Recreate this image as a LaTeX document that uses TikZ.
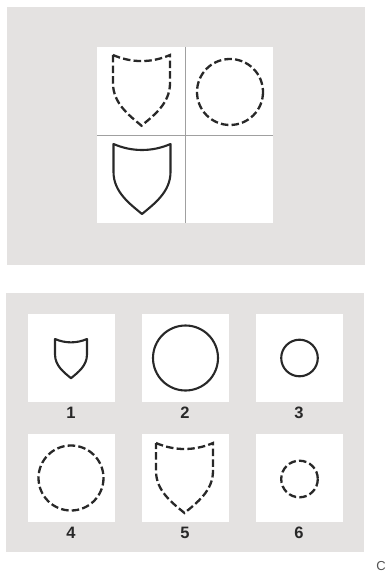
\documentclass[tikz,border=0pt]{standalone}
\usepackage{fontspec}
\setmainfont{Liberation Sans}
\definecolor{panelgray}{RGB}{228,226,225}
\definecolor{divgray}{RGB}{160,160,160}
\definecolor{ink}{RGB}{40,40,40}
\tikzset{
  panel/.style={fill=panelgray,draw=none},
  whitebox/.style={fill=white,draw=none},
  solidline/.style={draw=ink,line width=2.1pt,line join=round},
  dashline/.style={draw=ink,line width=2.3pt,dash pattern=on 7.5pt off 3.2pt},
  numlabel/.style={font=\fontsize{16.5}{16.5}\selectfont\bfseries,text=ink,inner sep=0pt},
}
\newcommand{\shieldpath}{(-28.5,0) .. controls (-10,8) and (10,8) .. (28.5,0) -- (28.5,28) .. controls (28.5,48) and (12,60) .. (0,70) .. controls (-12,60) and (-28.5,48) .. (-28.5,28) -- cycle}
\begin{document}
\begin{tikzpicture}[x=1pt,y=-1pt]
\useasboundingbox (0,0) rectangle (390,580);
\fill[white] (0,0) rectangle (390,580);
% top panel
\fill[panel] (7,7) rectangle (365,265);
\fill[whitebox] (97,47) rectangle (273,223);
\draw[divgray,line width=0.8pt] (185.5,47) -- (185.5,223);
\draw[divgray,line width=0.8pt] (97,135.5) -- (273,135.5);
\begin{scope}[shift={(141.5,55)},yscale=1.01]
  \draw[dashline] \shieldpath;
\end{scope}
\draw[dashline] (230,92) circle[radius=33];
\begin{scope}[shift={(142,144)}]
  \draw[solidline] \shieldpath;
\end{scope}
% bottom panel
\fill[panel] (6,293) rectangle (364,552);
\foreach \bx/\by in {28/314,142/314,256/314,28/434,142/434,256/434}{
  \fill[whitebox] (\bx,\by) rectangle ++(87,88);
}
\begin{scope}[shift={(71,339)},scale=0.56]
  \draw[solidline] \shieldpath;
\end{scope}
\draw[solidline] (185.5,358) circle[radius=32.5];
\draw[solidline] (299.5,358) circle[radius=18.3];
\draw[dashline] (71,478) circle[radius=32.5];
\begin{scope}[shift={(184.5,443)}]
  \draw[dashline] \shieldpath;
\end{scope}
\draw[dashline] (299.5,479) circle[radius=18.3];
\node[numlabel] (l1) at (71,413) {1};
\node[numlabel] (l2) at (185,413) {2};
\node[numlabel] (l3) at (299,413) {3};
\node[numlabel] (l4) at (71,533) {4};
\node[numlabel] (l5) at (185,533) {5};
\node[numlabel] (l6) at (299,533) {6};
\node[font=\fontsize{13}{13}\selectfont,text=ink!80,inner sep=0pt] (c) at (381,566) {C};
\end{tikzpicture}
\end{document}
